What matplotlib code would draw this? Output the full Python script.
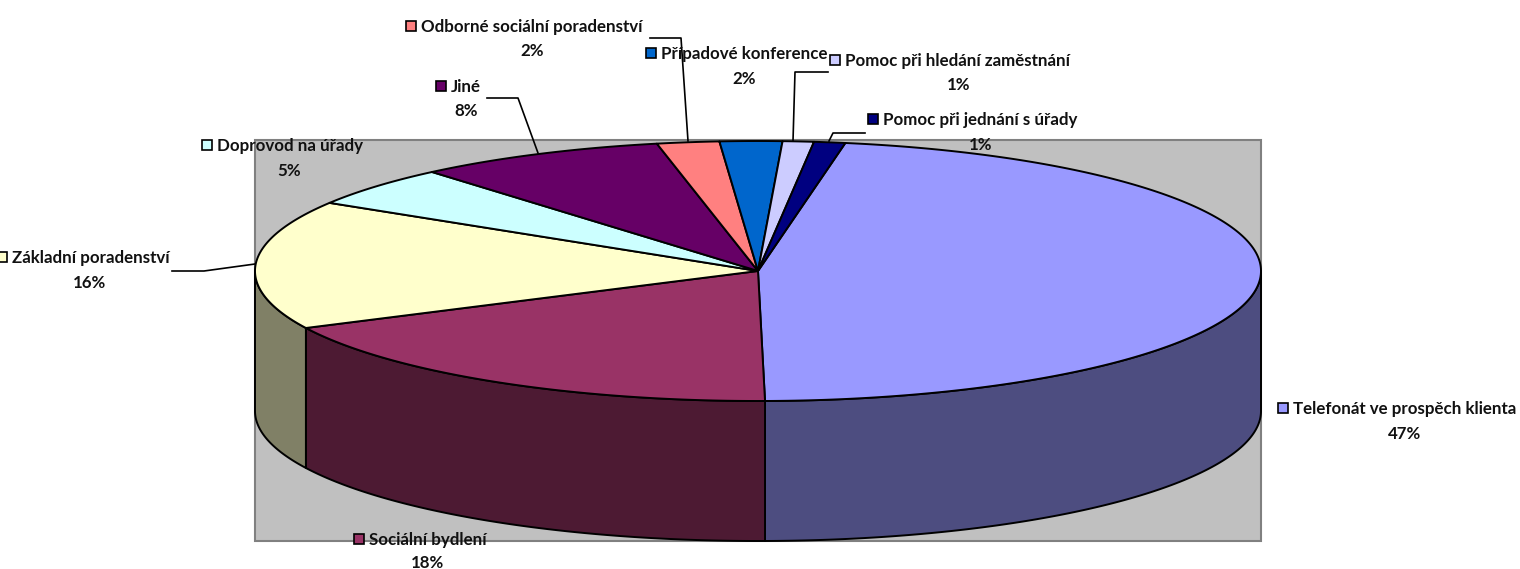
import numpy as np
import matplotlib
matplotlib.use('Agg')
import matplotlib.pyplot as plt
from matplotlib.colors import to_rgb
from matplotlib.patches import Polygon, Rectangle

# pie data, clockwise from the top
labels = ['Telefonát ve prospěch klienta', 'Sociální bydlení', 'Základní poradenství',
          'Doprovod na úřady', 'Jiné', 'Odborné sociální poradenství',
          'Případové konference', 'Pomoc při hledání zaměstnání', 'Pomoc při jednání s úřady']
values = [47, 18, 16, 5, 8, 2, 2, 1, 1]
colors = ['#9999FF', '#993366', '#FFFFCC', '#CCFFFF', '#660066',
          '#FF8080', '#0066CC', '#CCCCFF', '#000080']

# label layout in pixels: name start, name y, percent centre x, percent y
name_x = [1293, 369, 12, 217, 451, 421, 661, 845, 883]
name_y = [409, 540, 258, 146, 87, 27, 54, 61, 120]
pct_x = [1405, 428, 90, 289, 466, 532, 744, 959, 981]
pct_y = [434, 563, 283, 171, 111, 51, 79, 85, 145]

leaders = {
    'Odborné': ([650, 681, 688], [38, 38, 141]),
    'Hledání': ([828, 795, 793], [72, 72, 141]),
    'Jednání': ([865, 833, 829], [133, 133, 141]),
    'Jiné': ([487, 518, 538], [98, 98, 153]),
    'Základní': ([172, 204, 255], [271, 271, 264]),
}

CX, CY = 758, 271
RX, RY = 503, 130
DEPTH = 140
START = 80

plt.rcParams['font.family'] = ['Lato', 'DejaVu Sans']

fig = plt.figure(figsize=(15.2, 5.69), dpi=100)
ax = fig.add_axes([0, 0, 1, 1])
ax.set_xlim(0, 1520)
ax.set_ylim(569, 0)
ax.axis('off')


def rim(a, b):
    t = np.radians(np.linspace(a, b, 200))
    return CX + RX * np.cos(t), CY - RY * np.sin(t)


# wall behind the pie
ax.add_patch(Rectangle((255, 140), 1006, 401, fc='#C0C0C0', ec='#808080', lw=1.5, zorder=1))

angles = START - np.cumsum([0] + values) * 3.6

# sides first, only the front half can be seen
for i, c in enumerate(colors):
    hi = min(angles[i], 0)
    lo = max(angles[i + 1], -180)
    if hi <= lo:
        continue
    x, y = rim(hi, lo)
    pts = np.r_[np.c_[x, y], np.c_[x[::-1], y[::-1] + DEPTH]]
    dark = tuple(v * 0.5 for v in to_rgb(c))
    ax.add_patch(Polygon(pts, closed=True, fc=dark, ec='black', lw=1.4, joinstyle='round', zorder=2))

# top face
for i, c in enumerate(colors):
    x, y = rim(angles[i], angles[i + 1])
    pts = np.r_[[[CX, CY]], np.c_[x, y]]
    ax.add_patch(Polygon(pts, closed=True, fc=c, ec='black', lw=1.4, joinstyle='round', zorder=3))

for lx, ly in leaders.values():
    ax.plot(lx, ly, color='black', lw=1.2, zorder=4)

for i, name in enumerate(labels):
    ax.add_patch(Rectangle((name_x[i] - 15, name_y[i] - 6), 10, 10, fc=colors[i], ec='black',
                           lw=1.2, zorder=5))
    ax.text(name_x[i], name_y[i], name, ha='left', va='center', fontsize=12.2,
            fontweight='bold', color='#111111', zorder=6)
    ax.text(pct_x[i], pct_y[i], f'{values[i]}%', ha='center', va='center', fontsize=12.2,
            fontweight='bold', color='#111111', zorder=6)

fig.savefig('out.png', dpi=100)
